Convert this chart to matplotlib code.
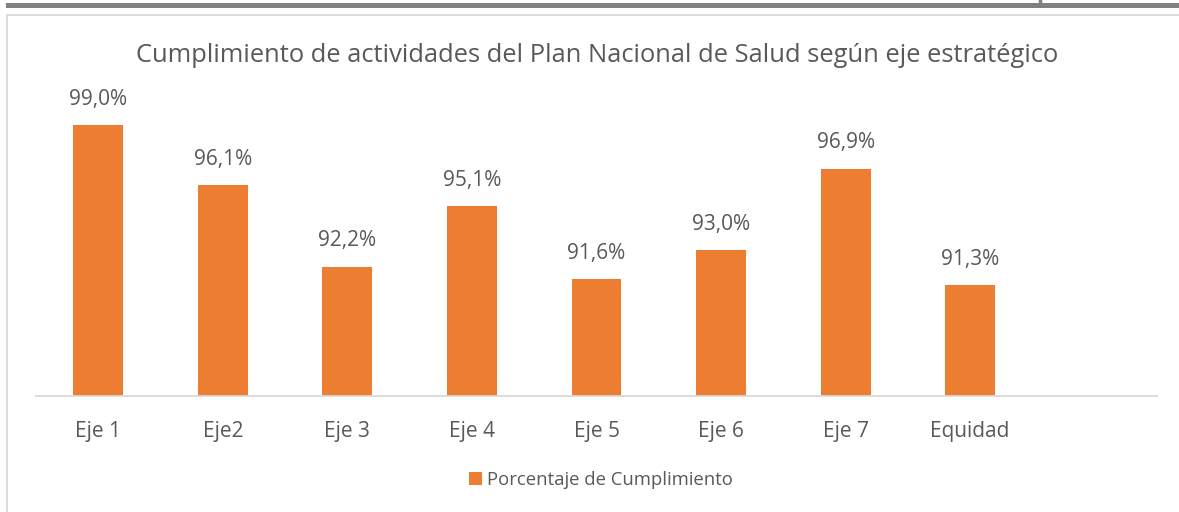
import matplotlib
matplotlib.use("Agg")
import matplotlib.pyplot as plt
from matplotlib.patches import Rectangle
from matplotlib.lines import Line2D

categories = ["Eje 1", "Eje2", "Eje 3", "Eje 4", "Eje 5", "Eje 6", "Eje 7", "Equidad"]
values = [99.0, 96.1, 92.2, 95.1, 91.6, 93.0, 96.9, 91.3]
labels = ["99,0%", "96,1%", "92,2%", "95,1%", "91,6%", "93,0%", "96,9%", "91,3%"]
title = "Cumplimiento de actividades del Plan Nacional de Salud según eje estratégico"
series_name = "Porcentaje de Cumplimiento"

W, H = 1179, 512
fig = plt.figure(figsize=(W / 100, H / 100), dpi=100)
plt.rcParams['font.family'] = ['Open Sans', 'DejaVu Sans']

orange = "#ED7D31"
txt = "#595959"

# decorations: dark top bar, chart frame
fig.add_artist(Rectangle((6 / W, 1 - 8 / H), 1 - 6 / W, 5 / H, transform=fig.transFigure,
                         facecolor="#808080", edgecolor="none"))
fig.add_artist(Line2D([1040 / W, 1040 / W], [1 - 0 / H, 1 - 5 / H], transform=fig.transFigure,
                      color="#808080", lw=2.5))
fig.add_artist(Line2D([7 / W, 1], [1 - 14.5 / H, 1 - 14.5 / H], transform=fig.transFigure,
                      color="#d9d9d9", lw=1.3))
fig.add_artist(Line2D([7.5 / W, 7.5 / W], [0, 1 - 14.5 / H], transform=fig.transFigure,
                      color="#d9d9d9", lw=1.3))

# plot area
x0, x1 = 36, 1157
y_top, y_bot = 104, 396
ax = fig.add_axes([x0 / W, 1 - y_bot / H, (x1 - x0) / W, (y_bot - y_top) / H])
ax.set_xlim(-0.5, 8.5)
ax.set_ylim(86, 100)
pos = list(range(len(categories)))
bars = ax.bar(pos, values, width=0.4, color=orange, label=series_name, zorder=2)
for p, v, l in zip(pos, values, labels):
    ax.annotate(l, (p, v), xytext=(0, 11), textcoords="offset points", ha="center",
                va="bottom", fontsize=15, color=txt)
for s in ["top", "right", "left"]:
    ax.spines[s].set_visible(False)
ax.spines["bottom"].set_color("#d9d9d9")
ax.spines["bottom"].set_linewidth(1.3)
ax.set_yticks([])
ax.set_xticks(pos)
ax.set_xticklabels(categories, fontsize=15, color=txt)
ax.tick_params(axis="x", length=0, pad=18)

fig.text(597 / W, 1 - 56 / H, title, ha="center", va="center", fontsize=18.4, color=txt)

leg = fig.legend(handles=[Rectangle((0, 0), 1, 1, facecolor=orange)], labels=[series_name],
                 loc="center", bbox_to_anchor=(601 / W, 1 - 480 / H), frameon=False,
                 fontsize=13.3, handlelength=0.7, handleheight=0.7, handletextpad=0.25,
                 labelcolor=txt)

fig.savefig("out.png", dpi=100, facecolor="white")
